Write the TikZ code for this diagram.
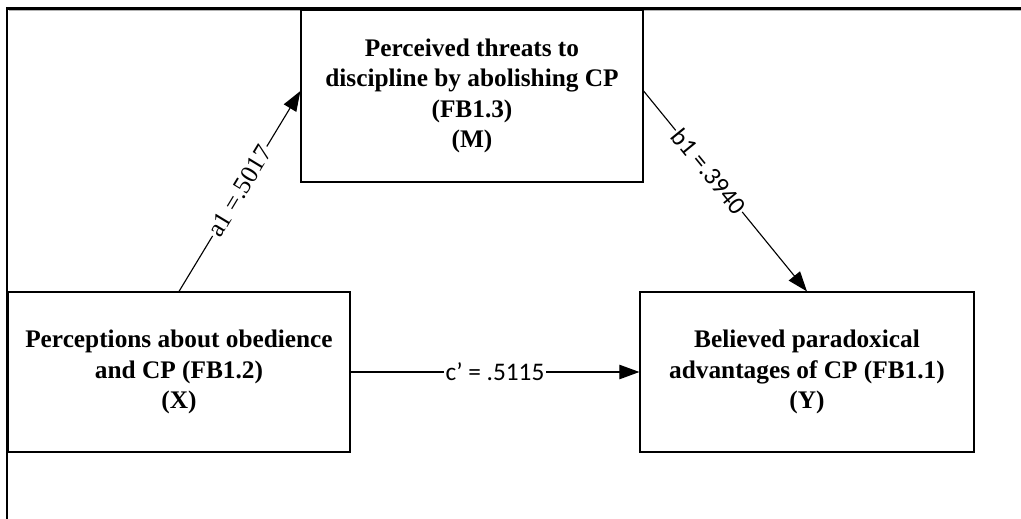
\documentclass[tikz,border=0pt]{standalone}
\usepackage{fontspec}
\setmainfont{Liberation Serif}
\newfontfamily\lblfont{Carlito}
\usetikzlibrary{arrows.meta, positioning}

\begin{document}
\begin{tikzpicture}[x=0.025cm, y=-0.025cm,
  varbox/.style={rectangle, draw, line width=0.8pt, align=center,
    font=\bfseries\fontsize{18}{21.5}\selectfont},
  path/.style={line width=0.8pt, -{Triangle[length=0.5cm, width=0.36cm]}},
  coef/.style={fill=white, inner sep=1pt, font=\lblfont\fontsize{18}{20}\selectfont}]
\useasboundingbox (0,0) rectangle (1021,519);
% ---------------- frame ----------------
\draw[line width=2pt] (7,519) -- (7,8.5) -- (1021,8.5);
\draw[gray!60, line width=0.6pt] (9,10.5) -- (1021,10.5);
% ---------------- variables ----------------
\node[varbox, minimum width=8.55cm, minimum height=4.3cm] (M) at (472,96)
  {Perceived threats to\\ discipline by abolishing CP\\ (FB1.3)\\ (M)};
\node[varbox, minimum width=8.55cm, minimum height=4cm] (X) at (179,372)
  {Perceptions about obedience\\ and CP (FB1.2)\\ (X)};
\node[varbox, minimum width=8.35cm, minimum height=4cm] (Y) at (807,372)
  {Believed paradoxical\\ advantages of CP (FB1.1)\\ (Y)};
% ---------------- paths ----------------
\draw[path] (X.north) -- ([yshift=0.125cm]M.west)
  node[coef, midway, sloped, font=\rmfamily\fontsize{18}{20}\selectfont] {a1 =.5017};
\draw[path] ([yshift=0.125cm]M.east) -- (Y.north)
  node[coef, pos=0.4, sloped] {b1 =.3940};
\draw[path] (X.east) -- (Y.west)
  node[coef, midway] {c’ = .5115};
\end{tikzpicture}
\end{document}
